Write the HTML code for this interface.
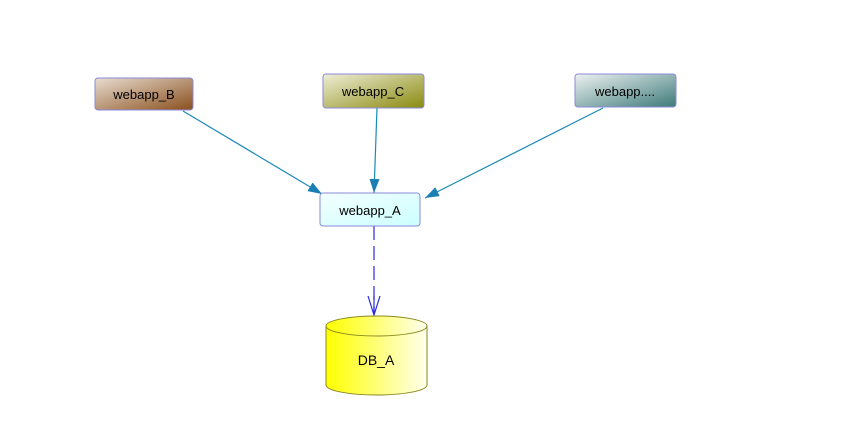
<!DOCTYPE html>
<html><head><style>
body{margin:0;background:#fff;}
svg{display:block;font-family:"Liberation Sans",sans-serif;}
</style></head><body>
<svg width="854" height="427" viewBox="0 0 854 427">
<defs>
<linearGradient id="gb" x1="0" y1="0" x2="1" y2="1"><stop offset="0" stop-color="#e8ddd0"/><stop offset="1" stop-color="#8a4f1e"/></linearGradient>
<linearGradient id="gc" x1="0" y1="0" x2="1" y2="1"><stop offset="0" stop-color="#eeeed8"/><stop offset="1" stop-color="#8a8a10"/></linearGradient>
<linearGradient id="gd" x1="0" y1="0" x2="1" y2="1"><stop offset="0" stop-color="#eef2f2"/><stop offset="1" stop-color="#3e7a7a"/></linearGradient>
<linearGradient id="ga" x1="0" y1="0" x2="1" y2="1"><stop offset="0" stop-color="#f4ffff"/><stop offset="1" stop-color="#ccffff"/></linearGradient>
<linearGradient id="gy" x1="0" y1="0" x2="1" y2="0"><stop offset="0" stop-color="#ffff00"/><stop offset="1" stop-color="#ffffee"/></linearGradient>
<marker id="ar" markerWidth="14" markerHeight="10" refX="14" refY="5" orient="auto" markerUnits="userSpaceOnUse"><path d="M0,0 L14,5 L0,10 z" fill="#1a7fb5"/></marker>
</defs>
<g stroke="#1a8ab8" stroke-width="1.2" fill="none">
<line x1="183" y1="111" x2="322" y2="194" marker-end="url(#ar)"/>
<line x1="377" y1="108" x2="374" y2="193" marker-end="url(#ar)"/>
<line x1="603" y1="108" x2="425" y2="198" marker-end="url(#ar)"/>
</g>
<line x1="374" y1="226" x2="374" y2="314" stroke="#2a2ae0" stroke-width="1.2" stroke-dasharray="14,6"/>
<path d="M368,296 L374,315 L380,296 M374,315 L374,296" stroke="#2a2ae0" fill="none" stroke-width="1.2"/>
<rect x="95" y="78" width="98" height="32" rx="3" fill="url(#gb)" stroke="#8a8ad8"/>
<text x="144" y="99" font-size="13" text-anchor="middle">webapp_B</text>
<rect x="323" y="74" width="101" height="34" rx="3" fill="url(#gc)" stroke="#8a8ad8"/>
<text x="373" y="96" font-size="13" text-anchor="middle">webapp_C</text>
<rect x="575" y="74" width="101" height="33" rx="3" fill="url(#gd)" stroke="#8a8ad8"/>
<text x="625" y="96" font-size="13" text-anchor="middle">webapp....</text>
<rect x="320" y="193" width="100" height="33" rx="3" fill="url(#ga)" stroke="#8a8ad8"/>
<text x="370" y="215" font-size="13" text-anchor="middle">webapp_A</text>
<path d="M326,326 L326,385 A50.5,10 0 0 0 427,385 L427,326" fill="url(#gy)" stroke="#8a8a20"/>
<ellipse cx="376.5" cy="326" rx="50.5" ry="10" fill="url(#gy)" stroke="#8a8a20"/>
<text x="376" y="365" font-size="14" text-anchor="middle">DB_A</text>
</svg>
</body></html>
